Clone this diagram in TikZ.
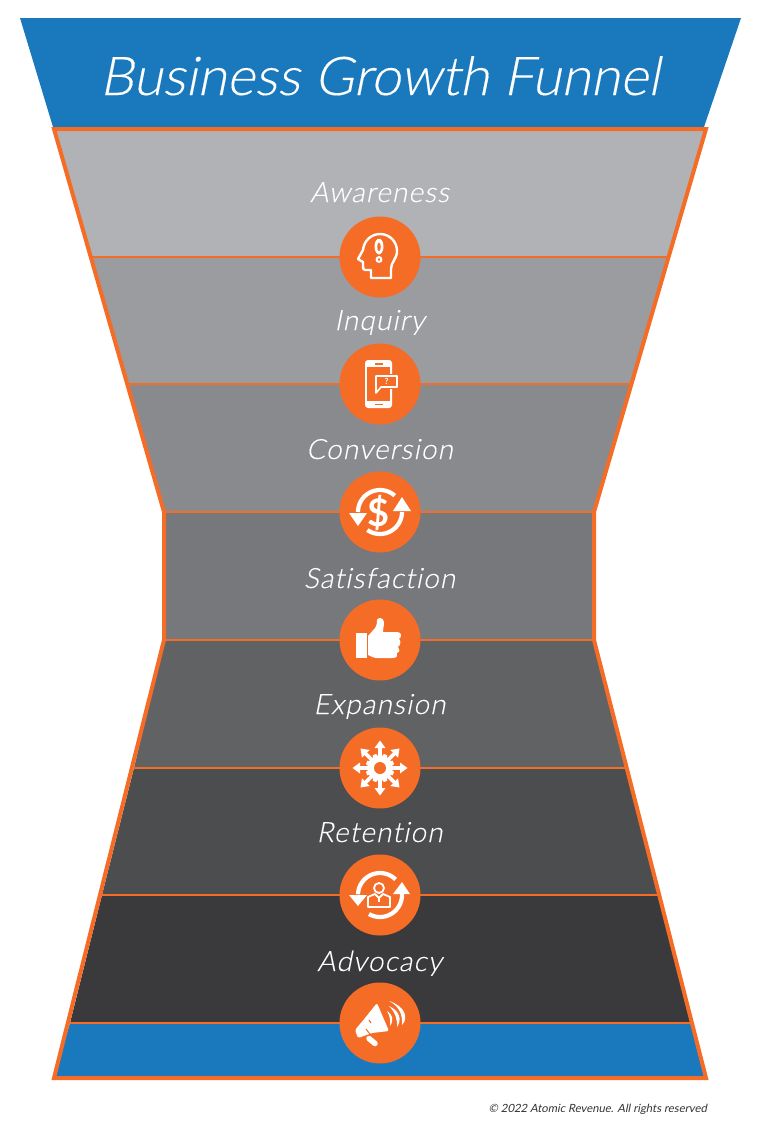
\documentclass[tikz,border=0pt]{standalone}
\usepackage{fontspec}
\setmainfont{Lato}
\newfontfamily\avfont[FakeSlant=0.2,FakeBold=0.25,Ligatures=NoCommon]{Lato Light}
\newfontfamily\labfont[FakeSlant=0.2,FakeBold=0.25,LetterSpace=4,Ligatures=NoCommon]{Lato Light}
\newfontfamily\copyfont[FakeSlant=0.2,Ligatures=NoCommon]{Lato}
\newfontfamily\glyphfont{Lato Bold}
\definecolor{fo}{HTML}{F56C27}
\definecolor{fb}{HTML}{1A79BD}
\tikzset{
  divider/.style={draw=fo,line width=1.8pt},
  badge/.style={circle,fill=fo,minimum size=81pt,inner sep=0pt},
  lab/.style={text=white,font=\labfont\fontsize{28}{30}\selectfont,inner sep=0pt,anchor=base},
  ico/.style={fill=white,draw=none},
  icl/.style={draw=white,line width=2.4pt,fill=none,line join=round},
  arcl/.style={draw=white,line width=4.2pt,fill=none},
  glyph/.style={text=white,inner sep=0pt}
}
\begin{document}
\begin{tikzpicture}[x=1pt,y=-1pt]
\useasboundingbox (0,0) rectangle (757,1128);
\fill[fb] (20,18) -- (741,18) -- (704,127) -- (53,127) -- cycle;
\node[text=white,font=\avfont\fontsize{53.5}{60}\selectfont,inner sep=0pt,anchor=base] (title) at (379.5,95) {Business Growth Funnel};
\fill[fill={rgb,255:red,177;green,178;blue,181}] (54,129) -- (706,129) -- (667,257) -- (92,257) -- cycle;
\fill[fill={rgb,255:red,155;green,156;blue,159}] (92,257) -- (667,257) -- (631,384) -- (129,384) -- cycle;
\fill[fill={rgb,255:red,137;green,138;blue,141}] (129,384) -- (631,384) -- (594,512) -- (164,512) -- cycle;
\fill[fill={rgb,255:red,119;green,120;blue,123}] (164,512) rectangle (594,640);
\fill[fill={rgb,255:red,97;green,98;blue,100}] (164,640) -- (594,640) -- (626,768) -- (134,768) -- cycle;
\fill[fill={rgb,255:red,76;green,77;blue,79}] (134,768) -- (626,768) -- (658,895) -- (102,895) -- cycle;
\fill[fill={rgb,255:red,58;green,57;blue,59}] (102,895) -- (658,895) -- (691,1023) -- (70,1023) -- cycle;
\fill[fb] (70,1023) -- (691,1023) -- (706,1078) -- (54,1078) -- cycle;
\draw[divider] (92,257) -- (667,257);
\draw[divider] (129,384) -- (631,384);
\draw[divider] (164,512) -- (594,512);
\draw[divider] (164,640) -- (594,640);
\draw[divider] (134,768) -- (626,768);
\draw[divider] (102,895) -- (658,895);
\draw[divider] (70,1023) -- (691,1023);
\draw[fo,line width=4pt,miter limit=10] (54,129) -- (706,129) -- (594,512) -- (594,640) -- (706,1078) -- (54,1078) -- (164,640) -- (164,512) -- cycle;
\foreach \nm/\t/\yy in {a/Awareness/202,b/Inquiry/330,c/Conversion/459,d/Satisfaction/588,e/Expansion/714,f/Retention/842,g/Advocacy/971}{
  \node[lab] (lab\nm) at (379.5,\yy) {\t};
}
\foreach \nm/\yy in {a/257,b/384,c/512,d/640,e/768,f/895,g/1023}{
  \node[badge] (b\nm) at (380,\yy) {};
}
\node[text={rgb,255:red,50;green,50;blue,50},font=\copyfont\fontsize{11.3}{12}\selectfont,inner sep=0pt,anchor=base east] (copy) at (707,1112) {© 2022 Atomic Revenue. All rights reserved};
% head
\begin{scope}[shift={(ba.center)}]
\draw[icl] (11,21) -- (-9,21) -- (-9,13) -- (-15,13) .. controls (-17,13) and (-17,11) .. (-17,9) -- (-17,5) -- (-22,2) -- (-17,-7) .. controls (-16,-17) and (-8,-23) .. (0,-23) .. controls (10,-23) and (17,-15) .. (17,-6) .. controls (17,2) and (11,5) .. (11,12) -- cycle;
\fill[ico,even odd rule] (-5.5,-10) .. controls (-5.5,-21) and (3.5,-21) .. (3.5,-10) .. controls (3.5,-6) and (1,-2.5) .. (-1,-2.5) .. controls (-3,-2.5) and (-5.5,-6) .. (-5.5,-10) -- cycle (-2.8,-10) .. controls (-2.8,-16) and (0.8,-16) .. (0.8,-10) .. controls (0.8,-8) and (0,-5.5) .. (-1,-5.5) .. controls (-2,-5.5) and (-2.8,-8) .. (-2.8,-10) -- cycle;
\draw[white,line width=2pt] (-1,2.5) circle (2.4);
\end{scope}
% phone
\begin{scope}[shift={(bb.center)}]
\fill[ico,rounded corners=3pt] (-15,-24) rectangle (12,24);
\fill[fo] (-12.6,-17.5) rectangle (9.6,16.5);
\fill[fo] (-5,-20.6) rectangle (3,-19.4);
\fill[fo] (-5,19.6) rectangle (3,21.4);
\fill[fo] (-6,-10) rectangle (19,5);
\draw[white,line width=1.6pt,line join=round,fill=fo] (-4,-8) -- (17,-8) -- (17,3) -- (1,3) -- (-4,9) -- cycle;
\node[glyph,font=\glyphfont\fontsize{8.5}{9}\selectfont] (qm) at (6.5,-2.5) {?};
\end{scope}
% dollar
\begin{scope}[shift={(bc.center)}]
\draw[arcl] plot[domain=-48:-180,samples=30] ({22*cos(\x)},{22*sin(\x)});
\fill[ico] (-22,14) -- (-31,1) -- (-13,1) -- cycle;
\draw[arcl] plot[domain=125:0,samples=30] ({22*cos(\x)},{22*sin(\x)});
\fill[ico] (22,-15) -- (13,-1) -- (31,-1) -- cycle;
\node[glyph,font=\glyphfont\fontsize{38}{38}\selectfont] (dollar) at (-1,1) {\$};
\end{scope}
% thumb
\begin{scope}[shift={(bd.center)}]
\fill[ico] (-24,-7) rectangle (-13,18);
\fill[ico] (-12,-4) -- (-5,-12) .. controls (-3,-15) and (-3,-18) .. (-3,-20) .. controls (-2,-23) and (3,-23) .. (4,-18) .. controls (4,-14) and (3,-11) .. (3,-8) -- (17,-8) .. controls (22,-8) and (22,-3) .. (19,-1) .. controls (21,0) and (21,5) .. (18,7) .. controls (20,9) and (20,12) .. (17,13) .. controls (18,15) and (17,18) .. (13,18) -- (-3,18) .. controls (-7,18) and (-9,16) .. (-12,15) -- cycle;
\end{scope}
% expansion
\begin{scope}[shift={(be.center)}]
\foreach \r in {0,45,...,315}{
  \begin{scope}[rotate=\r]
  \fill[ico] (-1.8,-10) rectangle (1.8,-21);
  \fill[ico] (-5.5,-20) -- (0,-27.5) -- (5.5,-20) -- cycle;
  \end{scope}
}
\foreach \r in {22.5,67.5,...,337.5}{
  \begin{scope}[rotate=\r]
  \fill[ico] (-2,-10) rectangle (2,-14.5);
  \end{scope}
}
\fill[ico] (0,0) circle (13);
\fill[fo] (0,0) circle (6);
\end{scope}
% retention
\begin{scope}[shift={(bf.center)}]
\draw[arcl] plot[domain=-45:-178,samples=30] ({22*cos(\x)},{22*sin(\x)});
\fill[ico] (-22,11) -- (-31,0) -- (-13,0) -- cycle;
\draw[arcl] plot[domain=120:-2,samples=30] ({22*cos(\x)},{22*sin(\x)});
\fill[ico] (22,-13) -- (13,-1) -- (30,-1) -- cycle;
\draw[white,line width=1.8pt] (-1,-7) circle (5);
\draw[white,line width=1.8pt,line join=round] (-12,12) -- (-12,2) -- (-5,-1) -- (-1,3) -- (3,-1) -- (10,2) -- (10,12) -- cycle;
\draw[white,line width=1.4pt] (-1,3) -- (-1,7);
\end{scope}
% megaphone
\begin{scope}[shift={(bg.center)}]
\fill[ico,rounded corners=1.5pt] (-3,-20) -- (-15,-5) -- (-25,7) -- (-22,15) -- (-8,10) -- (9,8) -- cycle;
\draw[fo,line width=1pt] (-14,6) -- (-7,15);
\draw[fo,line width=1.2pt] (-11,-3) -- (-9,0);
\draw[white,line width=5.5pt,line cap=round] (-11,15.5) -- (-5,20.5);
\fill[ico] (7,-12) .. controls (13,-8) and (14,-3) .. (10,3) .. controls (10.5,-3) and (10,-7) .. (7,-12) -- cycle;
\fill[ico] (9,-17) .. controls (20,-12) and (22,-3) .. (17,4) .. controls (17.5,-4) and (15,-11) .. (9,-17) -- cycle;
\fill[ico] (9,-22) .. controls (25,-17) and (29,-5) .. (22,2) .. controls (23,-8) and (19,-17) .. (9,-22) -- cycle;
\end{scope}
\end{tikzpicture}
\end{document}
